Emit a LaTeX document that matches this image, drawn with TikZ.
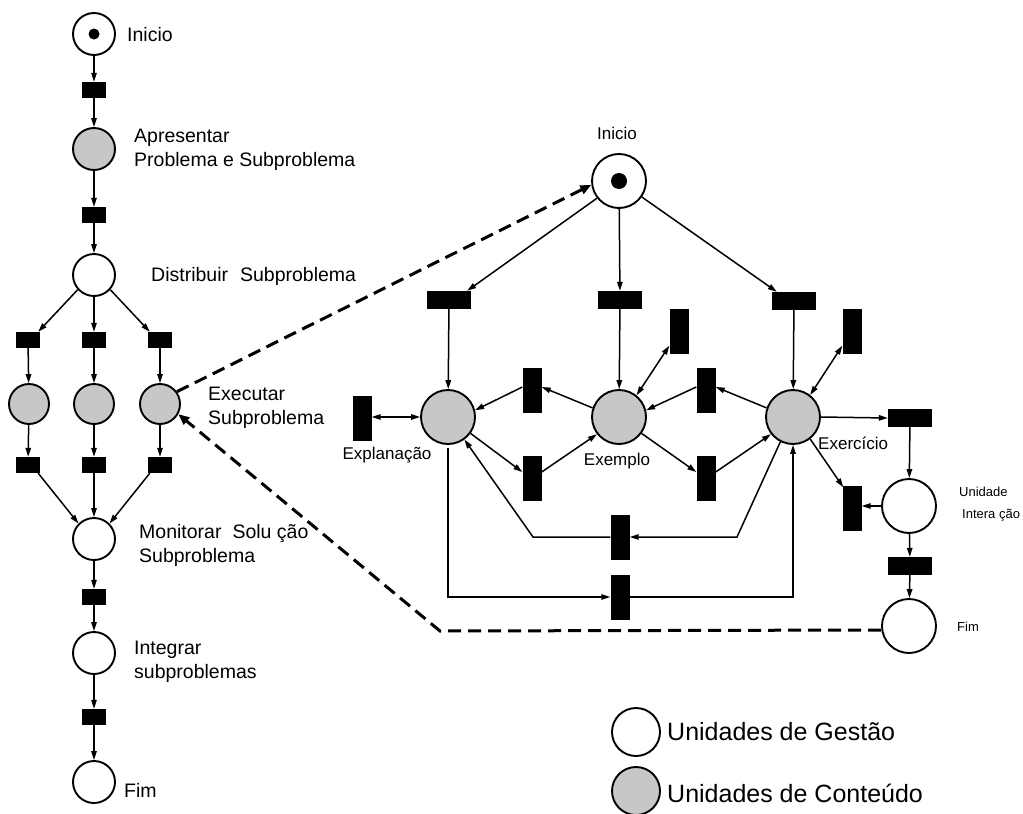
\documentclass[tikz,border=0pt]{standalone}
\usepackage{fontspec}
\setmainfont{Liberation Sans}
\usetikzlibrary{arrows.meta,calc}
\definecolor{contentgray}{RGB}{198,199,201}
\begin{document}
\begin{tikzpicture}[x=1pt,y=-1pt,
  lp/.style={circle,draw,line width=1.9pt,inner sep=0pt,minimum size=42pt,fill=white},
  rp/.style={circle,draw,line width=1.9pt,inner sep=0pt,minimum size=54pt,fill=white},
  content/.style={fill=contentgray},
  lt/.style={rectangle,fill=black,inner sep=0pt,minimum width=24pt,minimum height=16pt},
  rh/.style={rectangle,fill=black,inner sep=0pt,minimum width=44pt,minimum height=18pt},
  rv/.style={rectangle,fill=black,inner sep=0pt,minimum width=19pt,minimum height=45pt},
  tok/.style={circle,fill=black,inner sep=0pt,minimum size=#1},
  flow/.style={line width=1.5pt,-{Triangle[length=9pt,width=5.5pt]}},
  bflow/.style={line width=1.5pt,{Triangle[length=9pt,width=5.5pt]}-{Triangle[length=9pt,width=5.5pt]}},
  zoomlink/.style={line width=3pt,dash pattern=on 13pt off 7pt,-{Triangle[length=11pt,width=9pt]}},
  llbl/.style={font=\fontsize{19.5}{24}\selectfont,align=left,inner sep=0pt,anchor=west},
  rlbl/.style={font=\fontsize{17}{20}\selectfont,inner sep=0pt},
  slbl/.style={font=\fontsize{13}{16}\selectfont,inner sep=0pt,anchor=west},
  leg/.style={font=\fontsize{25}{30}\selectfont,inner sep=0pt,anchor=west}]
\useasboundingbox (0,0) rectangle (1023,814);

% ---------- main process (left column) ----------
\node[lp] (a1) at (94,34) {};
\node[tok=11pt] (a1k) at (a1) {};
\node[lt] (t1) at (94,90) {};
\node[lp,content] (a2) at (94,149) {};
\node[lt] (t2) at (94,215) {};
\node[lp] (a3) at (94,275) {};
\node[lt] (t3a) at (28,340) {};
\node[lt] (t3b) at (94,340) {};
\node[lt] (t3c) at (160,340) {};
\node[lp,content,minimum size=40pt] (e1) at (29,404) {};
\node[lp,content,minimum size=40pt] (e2) at (94,404) {};
\node[lp,content,minimum size=40pt] (e3) at (160,404) {};
\node[lt] (t4a) at (28,465) {};
\node[lt] (t4b) at (94,465) {};
\node[lt] (t4c) at (160,465) {};
\node[lp] (a4) at (94,539) {};
\node[lt] (t5) at (94,597) {};
\node[lp] (a5) at (94,653) {};
\node[lt] (t6) at (94,717) {};
\node[lp] (a6) at (94,782) {};

\draw[flow] (a1) -- (t1);
\draw[flow] (t1) -- (a2);
\draw[flow] (a2) -- (t2);
\draw[flow] (t2) -- (a3);
\draw[flow] (a3.222) -- ([xshift=-2pt]t3a.north east);
\draw[flow] (a3) -- (t3b);
\draw[flow] (a3.318) -- ([xshift=2pt]t3c.north west);
\draw[flow] (t3a) -- (e1);
\draw[flow] (t3b) -- (e2);
\draw[flow] (t3c) -- (e3);
\draw[flow] (e1) -- (t4a);
\draw[flow] (e2) -- (t4b);
\draw[flow] (e3) -- (t4c);
\draw[flow] ([xshift=-2pt]t4a.south east) -- (a4.135);
\draw[flow] (t4b) -- (a4);
\draw[flow] ([xshift=2pt]t4c.south west) -- (a4.45);
\draw[flow] (a4) -- (t5);
\draw[flow] (t5) -- (a5);
\draw[flow] (a5) -- (t6);
\draw[flow] (t6) -- (a6);

\node[llbl] (l1) at (127,35) {Inicio};
\node[llbl] (l2) at (134,150) {Apresentar\\Problema e Subproblema};
\node[llbl] (l3) at (151,276) {Distribuir\hspace{12pt}Subproblema};
\node[llbl] (l4) at (208,408) {Executar\\Subproblema};
\node[llbl] (l5) at (139,545) {Monitorar\hspace{11pt}Solu ção\\Subproblema};
\node[llbl] (l6) at (134,662) {Integrar\\subproblemas};
\node[llbl] (l7) at (124,790) {Fim};

% ---------- sub-process (right network) ----------
\node[rp] (ri) at (619,181) {};
\node[tok=16pt] (rik) at (ri) {};
\node[rh] (rt1) at (449,300) {};
\node[rh] (rt2) at (620,300) {};
\node[rh] (rt3) at (794,301) {};
\node[rp,content] (pEp) at (448,417) {};
\node[rp,content] (pEm) at (619,417) {};
\node[rp,content] (pEx) at (793,417) {};
\node[rv] (tEp) at (362,418) {};
\node[rv] (tU1) at (532,390) {};
\node[rv] (tU2) at (706,390) {};
\node[rv] (tD1) at (532,478) {};
\node[rv] (tD2) at (706,478) {};
\node[rv] (tS1) at (679,331) {};
\node[rv] (tS2) at (852,331) {};
\node[rv] (tB1) at (620,537) {};
\node[rv] (tB2) at (620,597) {};
\node[rh] (tE) at (910,418) {};
\node[rp] (pU) at (909,506) {};
\node[rv] (tX) at (852,508) {};
\node[rh] (tF) at (910,566) {};
\node[rp] (pF) at (909,626) {};
\coordinate (k1) at (737,537);
\coordinate (k2) at (533,537);
\coordinate (k3) at (440,631);

\draw[flow] (ri.218) -- ([xshift=-4pt]rt1.north east);
\draw[flow] (ri) -- (rt2);
\draw[flow] (ri.-35) -- ([xshift=5pt]rt3.north west);
\draw[flow] (rt1) -- (pEp);
\draw[flow] (rt2) -- (pEm);
\draw[flow] (rt3) -- (pEx);
\draw[bflow] (tEp.east |- pEp.west) -- (pEp.west);
\draw[flow] (pEm.161) -- ([yshift=3pt]tU1.east);
\draw[flow] ([yshift=3pt]tU1.west) -- (pEp.14);
\draw[flow] (pEx.161) -- ([yshift=3pt]tU2.east);
\draw[flow] ([yshift=3pt]tU2.west) -- (pEm.14);
\draw[flow] (pEp.-36) -- ([yshift=6pt]tD1.west);
\draw[flow] ([yshift=6pt]tD1.east) -- (pEm.218);
\draw[flow] (pEm.-36) -- ([yshift=6pt]tD2.west);
\draw[flow] ([yshift=6pt]tD2.east) -- (pEx.218);
\draw[bflow] (pEm.51) -- ([yshift=8pt]tS1.south west);
\draw[bflow] (pEx.52) -- ([yshift=8pt]tS2.south west);
\draw[flow] (pEx.east) -- (tE.west);
\draw[flow] (tE) -- (pU);
\draw[flow] (pU.west) -- (pU.west -| tX.east);
\draw[flow] (pEx.-52) -- ([xshift=1pt,yshift=-2pt]tX.north west);
\draw[flow] (pU) -- (tF);
\draw[flow] (tF) -- (pF);
\draw[flow] (pEx.243) -- (k1) -- (tB1.east);
\draw[flow] (tB1.west) -- (k2) -- (pEp.-54);
\draw[flow] ([yshift=-3pt]pEp.south) |- (tB2.west);
\draw[flow] (tB2.east) -| (pEx.south);

\node[rlbl] (r1) at (617,133) {Inicio};
\node[rlbl] (r2) at (387,455) {Explanação};
\node[rlbl] (r3) at (617,461) {Exemplo};
\node[rlbl,anchor=west] (r4) at (818,443) {Exercício};
\node[slbl] (r5) at (959,492) {Unidade};
\node[slbl] (r6) at (962,515) {Intera ção};
\node[slbl] (r7) at (957,627) {Fim};

% ---------- refinement links ----------
\draw[zoomlink] (e3.36) -- (ri.188);
\draw[zoomlink] ([yshift=-4pt]pF.west) -- (k3) -- (e3.-29);

% ---------- legend ----------
\node[circle,draw,line width=1.9pt,minimum size=48pt,inner sep=0pt] (g1) at (636,732) {};
\node[circle,draw,line width=1.9pt,minimum size=48pt,inner sep=0pt,content] (g2) at (636,791) {};
\node[leg] (g1t) at (667,732) {Unidades de Gestão};
\node[leg] (g2t) at (667,793) {Unidades de Conteúdo};
\end{tikzpicture}
\end{document}
